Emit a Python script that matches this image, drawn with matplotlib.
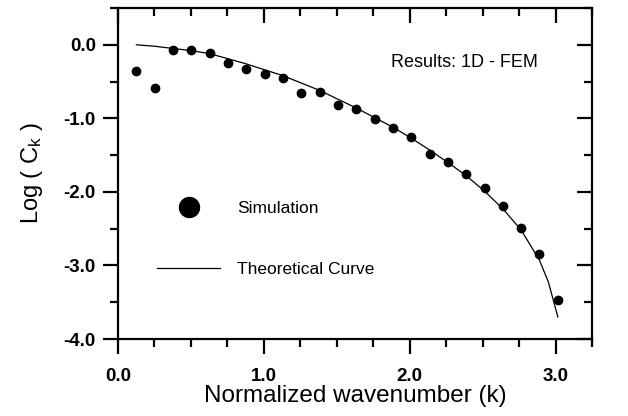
import matplotlib
matplotlib.use("Agg")
import matplotlib.pyplot as plt
from matplotlib.ticker import MultipleLocator, FormatStrFormatter

plt.rcParams['font.family'] = ['Liberation Sans', 'DejaVu Sans']
plt.rcParams['mathtext.fontset'] = 'custom'
plt.rcParams['mathtext.rm'] = 'Liberation Sans'
plt.rcParams['mathtext.it'] = 'Liberation Sans'

# Simulation points (Normalized wavenumber, Log Ck)
sim_k = [0.126, 0.251, 0.377, 0.503, 0.628, 0.754, 0.880, 1.005, 1.131, 1.257,
         1.382, 1.508, 1.634, 1.759, 1.885, 2.011, 2.136, 2.262, 2.388, 2.513,
         2.639, 2.765, 2.890, 3.016]
sim_logc = [-0.35, -0.585, -0.077, -0.068, -0.113, -0.249, -0.331, -0.395, -0.445, -0.657,
            -0.644, -0.82, -0.875, -1.01, -1.138, -1.256, -1.483, -1.60, -1.755, -1.95,
            -2.186, -2.494, -2.844, -3.47]

# Theoretical curve
theo_k = [0.126, 0.251, 0.377, 0.503, 0.628, 0.754, 0.880, 1.005, 1.131, 1.257,
          1.382, 1.508, 1.634, 1.759, 1.885, 2.011, 2.136, 2.262, 2.388, 2.513,
          2.639, 2.765, 2.890, 2.950, 3.016]
theo_logc = [0.0, -0.02, -0.05, -0.08, -0.12, -0.19, -0.26, -0.34, -0.42, -0.52,
             -0.62, -0.74, -0.86, -0.99, -1.12, -1.27, -1.43, -1.60, -1.78, -1.99,
             -2.23, -2.52, -2.93, -3.22, -3.70]

xticks = [0.0, 1.0, 2.0, 3.0]
yticks = [0.0, -1.0, -2.0, -3.0, -4.0]

fig = plt.figure(figsize=(6.28, 4.16), dpi=100)
ax = fig.add_axes([118/628, 1 - 339/416, (592-118)/628, (339-8)/416])

ax.plot(theo_k, theo_logc, color='black', lw=0.9, label='Theoretical Curve')
ax.plot(sim_k, sim_logc, 'o', color='black', ms=6, label='Simulation')

ax.set_xlim(0, 3.25)
ax.set_ylim(-4.0, 0.5)
ax.set_xticks(xticks)
ax.set_yticks(yticks)
ax.xaxis.set_minor_locator(MultipleLocator(0.25))
ax.yaxis.set_minor_locator(MultipleLocator(0.5))
ax.xaxis.set_major_formatter(FormatStrFormatter('%.1f'))
ax.yaxis.set_major_formatter(FormatStrFormatter('%.1f'))

for s in ax.spines.values():
    s.set_linewidth(1.6)

ax.tick_params(which='both', top=True, right=True, width=1.6, direction='out')
ax.tick_params(which='major', length=11)
ax.tick_params(which='minor', length=6)
ax.tick_params(axis='x', which='major', pad=10)
ax.tick_params(axis='y', which='major', pad=5)
# right / top ticks point inward
for t in ax.xaxis.get_major_ticks() + ax.xaxis.get_minor_ticks():
    t.tick2line.set_marker(3)
for t in ax.yaxis.get_major_ticks() + ax.yaxis.get_minor_ticks():
    t.tick2line.set_marker(0)

for lab in ax.get_xticklabels() + ax.get_yticklabels():
    lab.set_fontweight('bold')
    lab.set_fontsize(13.5)

ax.set_xlabel('Normalized wavenumber (k)', fontsize=17.5, labelpad=0)
ax.set_ylabel(r'Log ( C$_\mathrm{k}$ )', fontsize=17, labelpad=13)

ax.text(0.886, 0.834, 'Results: 1D - FEM', transform=ax.transAxes,
        ha='right', va='center', fontsize=13)

h_line = ax.get_lines()[0]
h_dot = ax.get_lines()[1]
leg = ax.legend([h_dot, h_line], ['Simulation', 'Theoretical Curve'],
                loc='upper left', bbox_to_anchor=(0.05, 0.465), frameon=False,
                fontsize=12.5, markerscale=2.4, handlelength=3.6,
                handletextpad=1.0, labelspacing=2.65, numpoints=1)

fig.savefig('out.png', dpi=100)
